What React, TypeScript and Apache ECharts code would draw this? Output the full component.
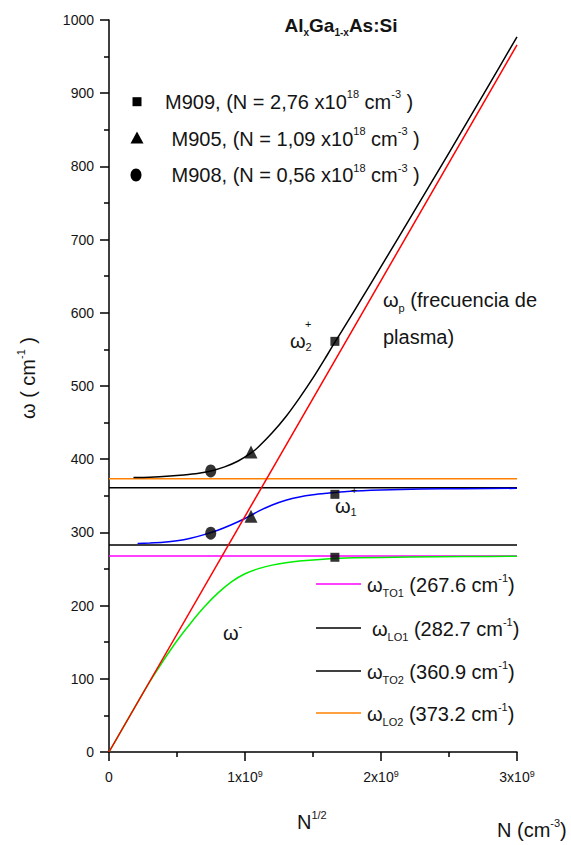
import React, { useEffect, useRef } from 'react';
import * as echarts from 'echarts';

const FONT = '"Liberation Sans", Arial, Helvetica, sans-serif';
const INK = '#141414';

// x = N^1/2 in units of 1e9 (cm^-3/2); y = omega in cm^-1
const xTickLabels = ['0', '1x10', '2x10', '3x10'];

const plasmaX = [0, 3];
const plasmaW = [0, 966];

const omega2PlusX = [0.18, 0.3, 0.45, 0.55, 0.65, 0.75, 0.85, 0.95, 1.045, 1.1, 1.2, 1.3, 1.4, 1.5, 1.6, 1.66, 1.75, 1.85, 2.0, 2.25, 2.5, 2.75, 3.0];
const omega2PlusW = [375, 375.5, 377, 378.5, 380.5, 384, 389.5, 397.5, 408.5, 417, 436, 458, 483.5, 511, 541, 559.5, 586.5, 617, 663, 740.5, 818.5, 897.5, 977];

const omega1PlusX = [0.21, 0.3, 0.4, 0.5, 0.6, 0.7, 0.8, 0.9, 1.0, 1.1, 1.2, 1.3, 1.4, 1.5, 1.6, 1.75, 2.0, 2.3, 2.6, 3.0];
const omega1PlusW = [285, 285.5, 286.5, 288.5, 292, 297, 303, 310.5, 319, 329, 337.5, 344, 348.5, 351.5, 353.5, 356, 358, 359.2, 359.8, 360.2];

const omegaMinusX = [0, 0.1, 0.2, 0.3, 0.4, 0.5, 0.6, 0.7, 0.8, 0.9, 1.0, 1.1, 1.2, 1.3, 1.4, 1.6, 1.8, 2.2, 2.6, 3.0];
const omegaMinusW = [0, 32.2, 64.4, 96, 125, 152, 176, 198, 217, 232.5, 243.5, 250.5, 255.3, 258.6, 261, 263.8, 265.2, 266.4, 267, 267.3];

const phononNames = ['TO1', 'LO1', 'TO2', 'LO2'];
const phononFreq = [267.6, 282.7, 360.9, 373.2];

const sampleNames = ['M909', 'M905', 'M908'];
const sampleDensity = ['2,76', '1,09', '0,56'];
const sampleX = [1.661, 1.044, 0.748];
const sampleW2Plus = [561, 410, 384];
const sampleW1Plus = [352, 322, 299];
const sampleWMinus = [266, null, null];

const phononColors = ['#ff00ff', '#000000', '#000000', '#ff8000'];
const sampleSymbols = ['rect', 'triangle', 'circle'];
const sampleSizes: any[] = [9, 13, [11, 13]];

const pairs = (xs: number[], ys: (number | null)[]) =>
  xs.map((x, i) => [x, ys[i]]).filter((p) => p[1] !== null);

function rich(size: number, bold = false, lh = size + 6) {
  const w = bold ? 'bold' : 'normal';
  return {
    t: { fontSize: size, lineHeight: lh, fontFamily: FONT, fill: INK, fontWeight: w },
    sup: { fontSize: Math.round(size * 0.55), lineHeight: Math.round(size * 0.7), fontFamily: FONT, fill: INK, verticalAlign: 'top', fontWeight: w },
    sub: { fontSize: Math.round(size * 0.55), lineHeight: Math.round(size * 0.7), fontFamily: FONT, fill: INK, verticalAlign: 'bottom', fontWeight: w },
  };
}

function txt(x: number, y: number, text: string, size: number, align = 'left', extra: any = {}) {
  const { bold, lh, ...rest } = extra;
  return {
    type: 'text',
    x,
    y,
    z: 100,
    ...rest,
    style: {
      text,
      align,
      verticalAlign: 'middle',
      fontSize: size,
      fontFamily: FONT,
      fill: INK,
      rich: rich(size, !!bold, lh || size + 6),
    },
  };
}

export default function App() {
  const ref = useRef<HTMLDivElement>(null);

  useEffect(() => {
    if (!ref.current) return;
    const chart = echarts.init(ref.current, undefined, { renderer: 'svg' });

    const series: any[] = [];
    phononFreq.forEach((f, i) => {
      series.push({
        type: 'line',
        name: phononNames[i],
        data: [[plasmaX[0], f], [plasmaX[1], f]],
        showSymbol: false,
        lineStyle: { color: phononColors[i], width: 1.5 },
        z: 2,
      });
    });
    series.push({
      type: 'line',
      name: 'omega-',
      data: pairs(omegaMinusX, omegaMinusW),
      showSymbol: false,
      smooth: 0.25,
      lineStyle: { color: '#00ee00', width: 1.5 },
      z: 3,
    });
    series.push({
      type: 'line',
      name: 'omega1+',
      data: pairs(omega1PlusX, omega1PlusW),
      showSymbol: false,
      smooth: 0.25,
      lineStyle: { color: '#0000ff', width: 1.5 },
      z: 3,
    });
    series.push({
      type: 'line',
      name: 'omega2+',
      data: pairs(omega2PlusX, omega2PlusW),
      showSymbol: false,
      smooth: 0.25,
      lineStyle: { color: '#000000', width: 1.5 },
      z: 3,
    });
    series.push({
      type: 'line',
      name: 'plasma',
      data: pairs(plasmaX, plasmaW),
      showSymbol: false,
      lineStyle: { color: '#ff0000', width: 1.5 },
      z: 4,
    });
    sampleNames.forEach((n, i) => {
      const ys = [sampleW2Plus[i], sampleW1Plus[i], sampleWMinus[i]].filter((v) => v !== null);
      series.push({
        type: 'scatter',
        name: n,
        data: ys.map((v) => [sampleX[i], v]),
        symbol: sampleSymbols[i],
        symbolSize: sampleSizes[i],
        itemStyle: { color: '#000000' },
        z: 10,
      });
    });

    const graphic: any[] = [];
    // title
    graphic.push(
      txt(341, 25, '{t|Al}{sub|x}{t|Ga}{sub|1-x}{t|As:Si}', 19, 'center', { bold: true })
    );
    // sample legend
    const legendY = [101.7, 138.5, 175];
    const legendTextX = [165, 171.5, 171.5];
    graphic.push({ type: 'rect', z: 100, shape: { x: 132.5, y: legendY[0] - 4.5, width: 9, height: 9 }, style: { fill: '#000' } });
    graphic.push({
      type: 'polygon',
      z: 100,
      shape: { points: [[137, legendY[1] - 7], [143.5, legendY[1] + 5], [130.5, legendY[1] + 5]] },
      style: { fill: '#000' },
    });
    graphic.push({ type: 'ellipse', z: 100, shape: { cx: 136, cy: legendY[2], rx: 5.5, ry: 6.5 }, style: { fill: '#000' } });
    sampleNames.forEach((n, i) => {
      graphic.push(
        txt(legendTextX[i], legendY[i], `{t|${n}, (N = ${sampleDensity[i]} x10}{sup|18}{t| cm}{sup|-3}{t| )}`, 20)
      );
    });
    // phonon legend
    const rowY = [584, 628, 671, 713];
    const rowTextX = [367, 372, 367, 367];
    phononNames.forEach((p, i) => {
      graphic.push({
        type: 'line',
        z: 100,
        shape: { x1: 316, y1: rowY[i], x2: 361, y2: rowY[i] },
        style: { stroke: phononColors[i], lineWidth: 1.5 },
      });
      graphic.push(
        txt(rowTextX[i], rowY[i] + 1, `{t|ω}{sub|${p}}{t| (${phononFreq[i].toFixed(1)} cm}{sup|-1}{t|)}`, 20)
      );
    });
    // curve annotations
    graphic.push(txt(290, 341, '{t|ω}{sub|2}', 20, 'left', { lh: 22 }));
    graphic.push(txt(305, 324, '+', 11));
    graphic.push(txt(335, 506, '{t|ω}{sub|1}', 20, 'left', { lh: 22 }));
    graphic.push(txt(351, 490, '+', 11));
    graphic.push(txt(223, 633, '{t|ω}{sup|-}', 20));
    graphic.push(txt(383, 300, '{t|ω}{sub|p}{t| (frecuencia de}', 20));
    graphic.push(txt(383, 337, '{t|plasma)}', 20));
    // axis names
    graphic.push(txt(28, 378, '{t|ω ( cm}{sup|-1}{t| )}', 20, 'center', { rotation: Math.PI / 2 }));
    graphic.push(txt(297, 822, '{t|N}{sup|1/2}', 20));
    graphic.push(txt(497, 830, '{t|N (cm}{sup|-3}{t|)}', 20));

    const axisCommon = {
      type: 'value',
      axisLine: { show: true, onZero: false, lineStyle: { color: '#000', width: 1.5 } },
      axisTick: { show: true, inside: false, length: 9, lineStyle: { color: '#000', width: 1.5 } },
      minorTick: { show: true, splitNumber: 2, length: 5, lineStyle: { color: '#000', width: 1.5 } },
      splitLine: { show: false },
      minorSplitLine: { show: false },
    };

    chart.setOption({
      animation: false,
      backgroundColor: '#ffffff',
      grid: { left: 109, right: 54, top: 20, bottom: 93, outerBoundsMode: 'none' },
      xAxis: {
        ...axisCommon,
        min: 0,
        max: 3,
        interval: 1,
        axisLabel: {
          margin: 17,
          formatter: (v: number) => (v === 0 ? `{a|${xTickLabels[0]}}` : `{a|${xTickLabels[Math.round(v)]}}{s|9}`),
          rich: {
            a: { fontSize: 14, lineHeight: 16, fontFamily: FONT, color: INK },
            s: { fontSize: 9, lineHeight: 9, fontFamily: FONT, color: INK, verticalAlign: 'top' },
          },
        },
      },
      yAxis: {
        ...axisCommon,
        min: 0,
        max: 1000,
        interval: 100,
        axisLabel: { margin: 15, fontSize: 14, fontFamily: FONT, color: INK, formatter: (v: number) => String(v) },
      },
      series,
      graphic,
    });

    return () => chart.dispose();
  }, []);

  return (
    <div
      ref={ref}
      style={{ position: 'fixed', left: 0, top: 0, width: 571, height: 845, background: '#fff' }}
    />
  );
}
